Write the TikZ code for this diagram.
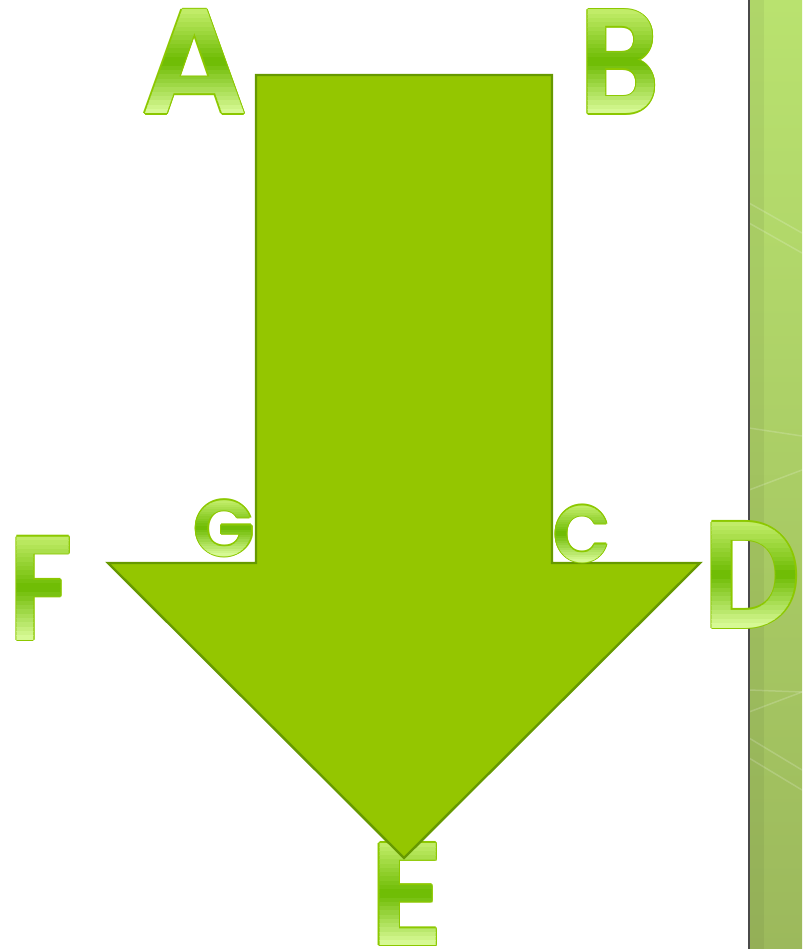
\documentclass[tikz,border=0pt]{standalone}
\usepackage{fontspec}
\IfFontExistsTF{Poppins SemiBold}
  {\newfontfamily\letterfont{Poppins SemiBold}}
  {\newfontfamily\letterfont{Poppins}[UprightFont=*-Bold]}
\definecolor{arrowfill}{HTML}{94C600}
\definecolor{arrowline}{HTML}{669900}
\definecolor{lettertop}{HTML}{C4EE6C}
\definecolor{lettermid}{HTML}{6CBA00}
\definecolor{letterbot}{HTML}{DCFC9C}
\definecolor{letterline}{HTML}{8CC800}
\definecolor{stripedge}{HTML}{4A4A4A}
\definecolor{striptop}{HTML}{B9E26F}
\definecolor{stripbot}{HTML}{9CB95C}

% gradient letter: name, x, baseline y, font size, letter, width factor
\newcommand\gradletter[6]{%
  \foreach \d in {0,45,...,315}
    \node[letter=#4, xscale=#6, transform shape, text=letterline,
          xshift={1.4pt*cos(\d)}, yshift={1.4pt*sin(\d)}]
      (#1-rim\d) at (#2,#3) {#5};
  \pgfmathsetmacro\capht{0.7*#4}
  \foreach \i in {0,...,23}{%
    \pgfmathsetmacro\bandtop{#3-\capht+\i*\capht/24-(\i==0)*12}
    \pgfmathsetmacro\bandbot{#3-\capht+(\i+1)*\capht/24+(\i==23)*12}
    \pgfmathtruncatemacro\mixp{(\i+0.5)/24*200}
    \ifnum\mixp<100
      \colorlet{bandcol}{lettermid!\mixp!lettertop}%
    \else
      \pgfmathtruncatemacro\mixp{\mixp-100}%
      \colorlet{bandcol}{letterbot!\mixp!lettermid}%
    \fi
    \begin{scope}
      \clip (#2-120,\bandtop) rectangle (#2+120,\bandbot);
      \node[letter=#4, xscale=#6, transform shape, text=bandcol]
        (#1-band\i) at (#2,#3) {#5};
    \end{scope}
  }%
}

\begin{document}
\begin{tikzpicture}[x=1pt, y=-1pt,
  letter/.style={inner sep=0pt, anchor=base,
                 font=\letterfont\fontsize{#1}{#1}\selectfont},
  bigarrow/.style={fill=arrowfill, draw=arrowline, line width=2.4pt,
                   line join=miter},
  gleam/.style={draw=white, opacity=0.18, line width=1.5pt}
]
  \useasboundingbox (0,0) rectangle (802,949);

  % side strip
  \shade[top color=striptop, bottom color=stripbot] (749,0) rectangle (802,949);
  \fill[black, opacity=0.05] (749,0) rectangle (764,949);
  \draw[gleam] (749,203) -- (802,233);
  \draw[gleam] (749,223) -- (802,253);
  \draw[gleam] (749,428) -- (802,436);
  \draw[gleam] (749,490) -- (802,470);
  \draw[gleam] (749,690) -- (802,692);
  \draw[gleam] (749,712) -- (802,692);
  \draw[gleam] (749,738) -- (802,770);
  \draw[gleam] (749,758) -- (802,790);
  \draw[stripedge, line width=2pt] (748.5,0) -- (748.5,949);

  \gradletter{E}{407}{945}{146}{E}{0.95}

  \draw[bigarrow] (256,75) -- (552,75) -- (552,563) -- (700,563)
    -- (404,858) -- (108,563) -- (256,563) -- cycle;

  \gradletter{A}{194.5}{114}{149}{A}{1}
  \gradletter{B}{619.5}{114}{149}{B}{0.84}
  \gradletter{G}{224}{556}{79}{G}{1}
  \gradletter{C}{582}{562}{80}{C}{0.93}
  \gradletter{D}{752}{628}{152}{D}{0.9}
  \gradletter{F}{41}{640}{148}{F}{0.82}
\end{tikzpicture}
\end{document}
